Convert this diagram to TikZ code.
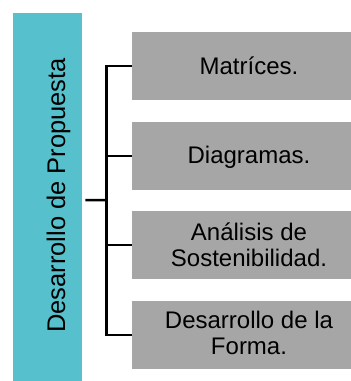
\documentclass[tikz,border=0pt]{standalone}
\usepackage{fontspec}
\setmainfont{Liberation Sans}
\definecolor{tealbox}{RGB}{86,193,204}
\definecolor{graybox}{RGB}{166,166,166}
\begin{document}
\begin{tikzpicture}[x=1pt,y=1pt,
  sidebox/.style={fill=tealbox,draw=none,inner sep=0pt},
  itembox/.style={fill=graybox,draw=none,inner sep=0pt,minimum width=219.5pt,minimum height=68.4pt},
  itemtext/.style={inner sep=0pt,align=center,font=\fontsize{24}{26}\selectfont,text=black},
  conn/.style={draw=black,line width=2.5pt,line join=miter}]
\useasboundingbox (0,0) rectangle (351,-381);
\node[sidebox,minimum width=69pt,minimum height=368pt,anchor=north west] (teal) at (13,-13) {};
\node[rotate=90,anchor=base,inner sep=0pt,font=\fontsize{25.5}{28}\selectfont] (title) at (65,-195.5) {Desarrollo de Propuesta};
\node[itembox,anchor=west] (b1) at (131.5,-65.8) {};
\node[itembox,anchor=west] (b2) at (131.5,-155.8) {};
\node[itembox,anchor=west] (b3) at (131.5,-245) {};
\node[itembox,anchor=west] (b4) at (131.5,-335) {};
\node[itemtext,anchor=base] (t1) at (249,-74) {Matríces.};
\node[itemtext,anchor=base] (t2) at (249,-163.3) {Diagramas.};
\node[itemtext] (t3) at (249,-245.2) {Análisis de\\Sostenibilidad.};
\node[itemtext] (t4) at (249,-333) {Desarrollo de la\\Forma.};
\coordinate (j) at (106.5,-200);
\draw[conn] (b1.west) -- (b1.west -| j) -- (b4.west -| j) -- (b4.west);
\draw[conn] (b2.west) -- (b2.west -| j);
\draw[conn] (b3.west) -- (b3.west -| j);
\draw[conn] ([shift={(3pt,-3pt)}]teal.east) -- (j);
\end{tikzpicture}
\end{document}
